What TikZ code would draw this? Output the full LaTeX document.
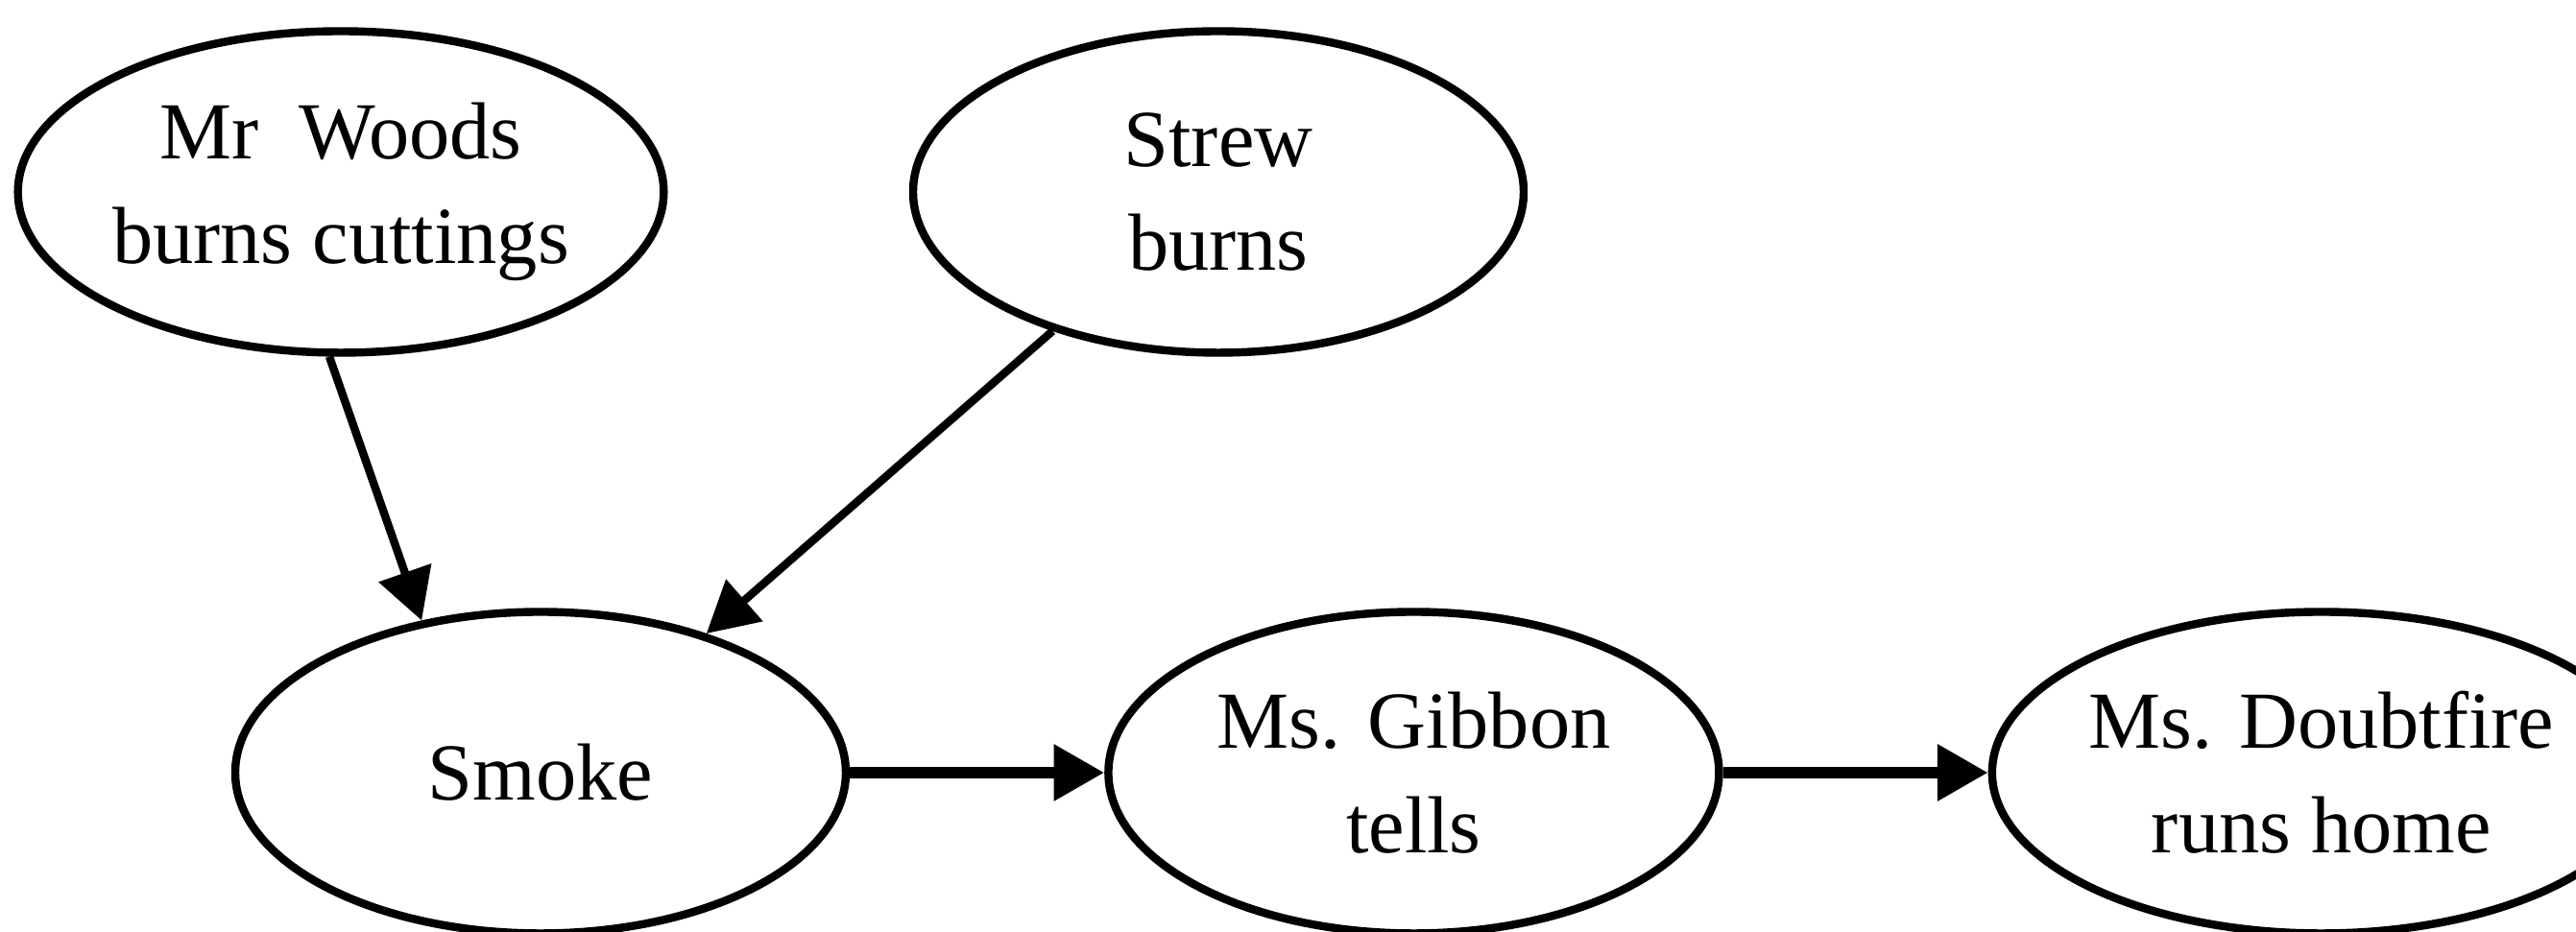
\documentclass[tikz,border=0pt]{standalone}
\usepackage{fontspec}
\setmainfont{Liberation Serif}
\usetikzlibrary{shapes,arrows.meta,positioning}

\begin{document}
\begin{tikzpicture}[
event/.style = {draw, ellipse, line width=2.4pt, minimum width=6.36cm, minimum height=3.35cm,
                inner sep=0pt, align=center, font=\fontsize{24}{31}\selectfont},
line/.style = {draw, line width=2.4pt, -{Triangle[length=15pt,width=16pt]}},
thickline/.style = {line, line width=3.4pt},
node distance=2.65cm]

\useasboundingbox (0,0) rectangle (26.83,9.71);

% top row
\node [event] (woods) at (3.55,7.71) {Mr~ Woods\\burns cuttings};
\node [event] (strew) at (12.69,7.71) {Strew\\burns};
% bottom row
\node [event] (smoke) at (5.63,1.66) {Smoke};
\node [event, right=of smoke] (gibbon) {Ms. Gibbon\\tells};
\node [event, right=2.76cm of gibbon] (doubtfire) {Ms. Doubtfire\\runs home};

\begin{scope}[every path/.style=line]
\path (woods.266) -- (smoke.128);
\path (strew.220) -- (smoke.40);
\end{scope}
\begin{scope}[every path/.style=thickline]
\path (smoke) -- (gibbon);
\path (gibbon) -- (doubtfire);
\end{scope}
\end{tikzpicture}
\end{document}
